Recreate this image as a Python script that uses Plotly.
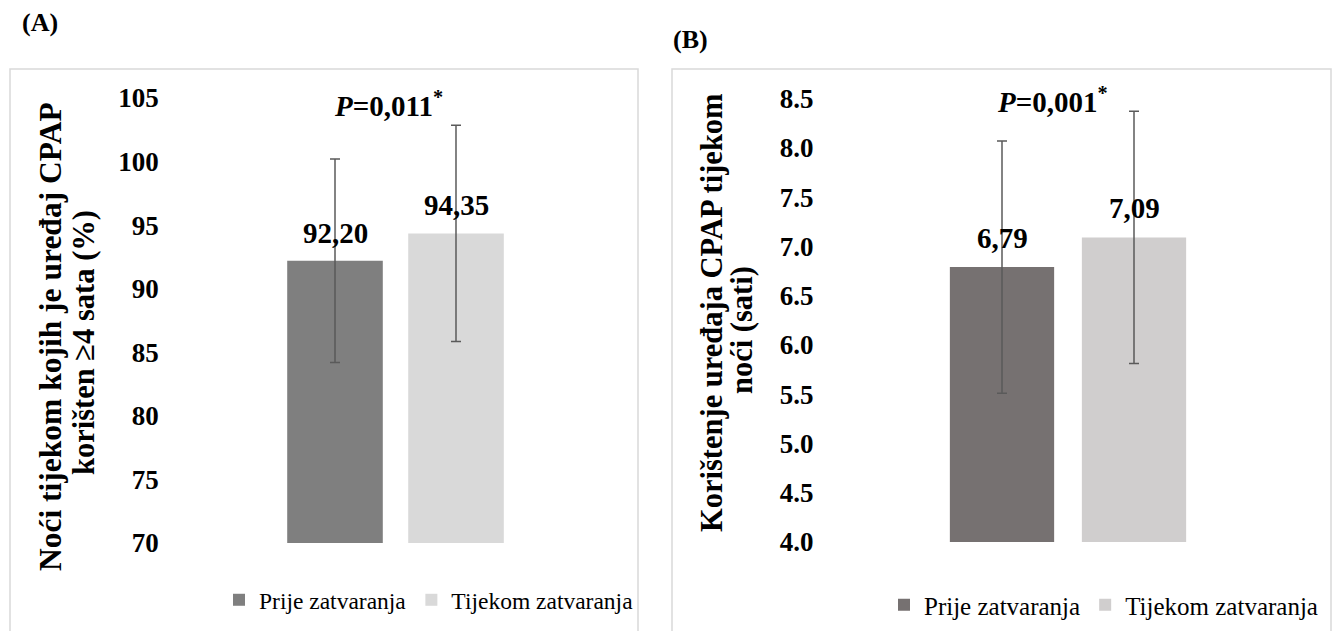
import plotly.graph_objects as go

# ---- data ----
series_names = ["Prije zatvaranja", "Tijekom zatvaranja"]
a_means = [92.20, 94.35]
a_sd = [8.0, 8.5]
a_labels = ["92,20", "94,35"]
b_means = [6.79, 7.09]
b_sd = [1.28, 1.28]
b_labels = ["6,79", "7,09"]
a_colors = ["#7f7f7f", "#d9d9d9"]
b_colors = ["#767171", "#d0cece"]
a_ticks = [70, 75, 80, 85, 90, 95, 100, 105]
b_ticks = [4.0, 4.5, 5.0, 5.5, 6.0, 6.5, 7.0, 7.5, 8.0, 8.5]
a_title_lines = ["Noći tijekom kojih je uređaj CPAP", "korišten ≥4 sata (%)"]
b_title_lines = ["Korištenje uređaja CPAP tijekom", "noći (sati)"]
a_p = "<i>P</i>=0,011<sup>*</sup>"
b_p = "<i>P</i>=0,001<sup>*</sup>"

W, H = 1335, 631
SERIF = "Liberation Serif"

fig = go.Figure()

for i, name in enumerate(series_names):
    fig.add_trace(go.Bar(
        x=[i], y=[a_means[i]], width=0.79, name=name,
        marker=dict(color=a_colors[i], line=dict(width=0)),
        error_y=dict(type="data", array=[a_sd[i]], color="#5a5a5a", thickness=1.5, width=5),
        xaxis="x", yaxis="y", legend="legend", base=0,
    ))
for i, name in enumerate(series_names):
    fig.add_trace(go.Bar(
        x=[i], y=[b_means[i]], width=0.79, name=name,
        marker=dict(color=b_colors[i], line=dict(width=0)),
        error_y=dict(type="data", array=[b_sd[i]], color="#5a5a5a", thickness=1.5, width=5),
        xaxis="x2", yaxis="y2", legend="legend2", base=0,
    ))

ydom = [(H - 543) / H, (H - 98) / H]
ydom2 = [(H - 542) / H, (H - 98.5) / H]

tickfont = dict(family=SERIF, size=27, color="#000000", weight="bold")

fig.update_layout(
    template="none",
    width=W, height=H,
    margin=dict(l=0, r=0, t=0, b=0, pad=0, autoexpand=False),
    paper_bgcolor="white", plot_bgcolor="white",
    barmode="overlay",
    showlegend=True,
    font=dict(family=SERIF, color="#000000"),
    xaxis=dict(domain=[177.7 / W, 613.3 / W], range=[-1.3, 2.3], visible=False,
               fixedrange=True, automargin=False),
    yaxis=dict(domain=ydom, range=[70, 105], tickvals=a_ticks, ticktext=[str(t) for t in a_ticks],
               showgrid=False, zeroline=False, showline=False, ticks="", automargin=False,
               tickfont=tickfont, ticklabelstandoff=18, anchor="x"),
    xaxis2=dict(domain=[830.4 / W, 1305.6 / W], range=[-1.3, 2.3], visible=False,
                fixedrange=True, anchor="y2", automargin=False),
    yaxis2=dict(domain=ydom2, range=[4.0, 8.5], tickvals=b_ticks, ticktext=[f"{t:.1f}" for t in b_ticks],
                showgrid=False, zeroline=False, showline=False, ticks="", automargin=False,
                tickfont=tickfont, ticklabelstandoff=16, anchor="x2"),
    legend=dict(orientation="h", x=219 / W, xanchor="left", y=(H - 600) / H, yanchor="middle",
                font=dict(family=SERIF, size=23.5, color="#000000"), bgcolor="rgba(0,0,0,0)",
                borderwidth=0),
    legend2=dict(orientation="h", x=884 / W, xanchor="left", y=(H - 605) / H, yanchor="middle",
                 font=dict(family=SERIF, size=25, color="#000000"), bgcolor="rgba(0,0,0,0)",
                 borderwidth=0),
)

# panel boxes
for x0, x1 in [(10, 638), (672, 1331)]:
    fig.add_shape(type="rect", xref="paper", yref="paper",
                  x0=x0 / W, x1=x1 / W, y0=-0.1, y1=(H - 69) / H,
                  line=dict(color="#d9d9d9", width=1.5), fillcolor="rgba(0,0,0,0)", layer="below")


def pa(px, py, text, size, angle=0, xa="center", ya="middle"):
    return dict(x=px / W, y=(H - py) / H, xref="paper", yref="paper", text=text,
                showarrow=False, xanchor=xa, yanchor=ya, textangle=angle,
                font=dict(family=SERIF, size=size, color="#000000"))


ann = []
# value labels
for i in range(2):
    ann.append(dict(x=i, y=a_means[i], xref="x", yref="y", text=f"<b>{a_labels[i]}</b>",
                    showarrow=False, xanchor="center", yanchor="middle", yshift=28,
                    font=dict(family=SERIF, size=29, color="#000000")))
    ann.append(dict(x=i, y=b_means[i], xref="x2", yref="y2", text=f"<b>{b_labels[i]}</b>",
                    showarrow=False, xanchor="center", yanchor="middle", yshift=29,
                    font=dict(family=SERIF, size=29, color="#000000")))
# p-values
ann.append(pa(388, 104, f"<b>{a_p}</b>", 29))
ann.append(pa(1052, 100, f"<b>{b_p}</b>", 29))
# axis titles (one annotation per line to control spacing)
ann.append(pa(51, 337, f"<b>{a_title_lines[0]}</b>", 31.5, angle=-90))
ann.append(pa(84, 343, f"<b>{a_title_lines[1]}</b>", 30.5, angle=-90))
ann.append(pa(712, 313, f"<b>{b_title_lines[0]}</b>", 30.5, angle=-90))
ann.append(pa(742, 330, f"<b>{b_title_lines[1]}</b>", 30.5, angle=-90))
# panel labels
ann.append(pa(40, 22, "<b>(A)</b>", 26))
ann.append(pa(690, 40, "<b>(B)</b>", 26))

fig.update_layout(annotations=ann)
fig.write_html("out.html")
